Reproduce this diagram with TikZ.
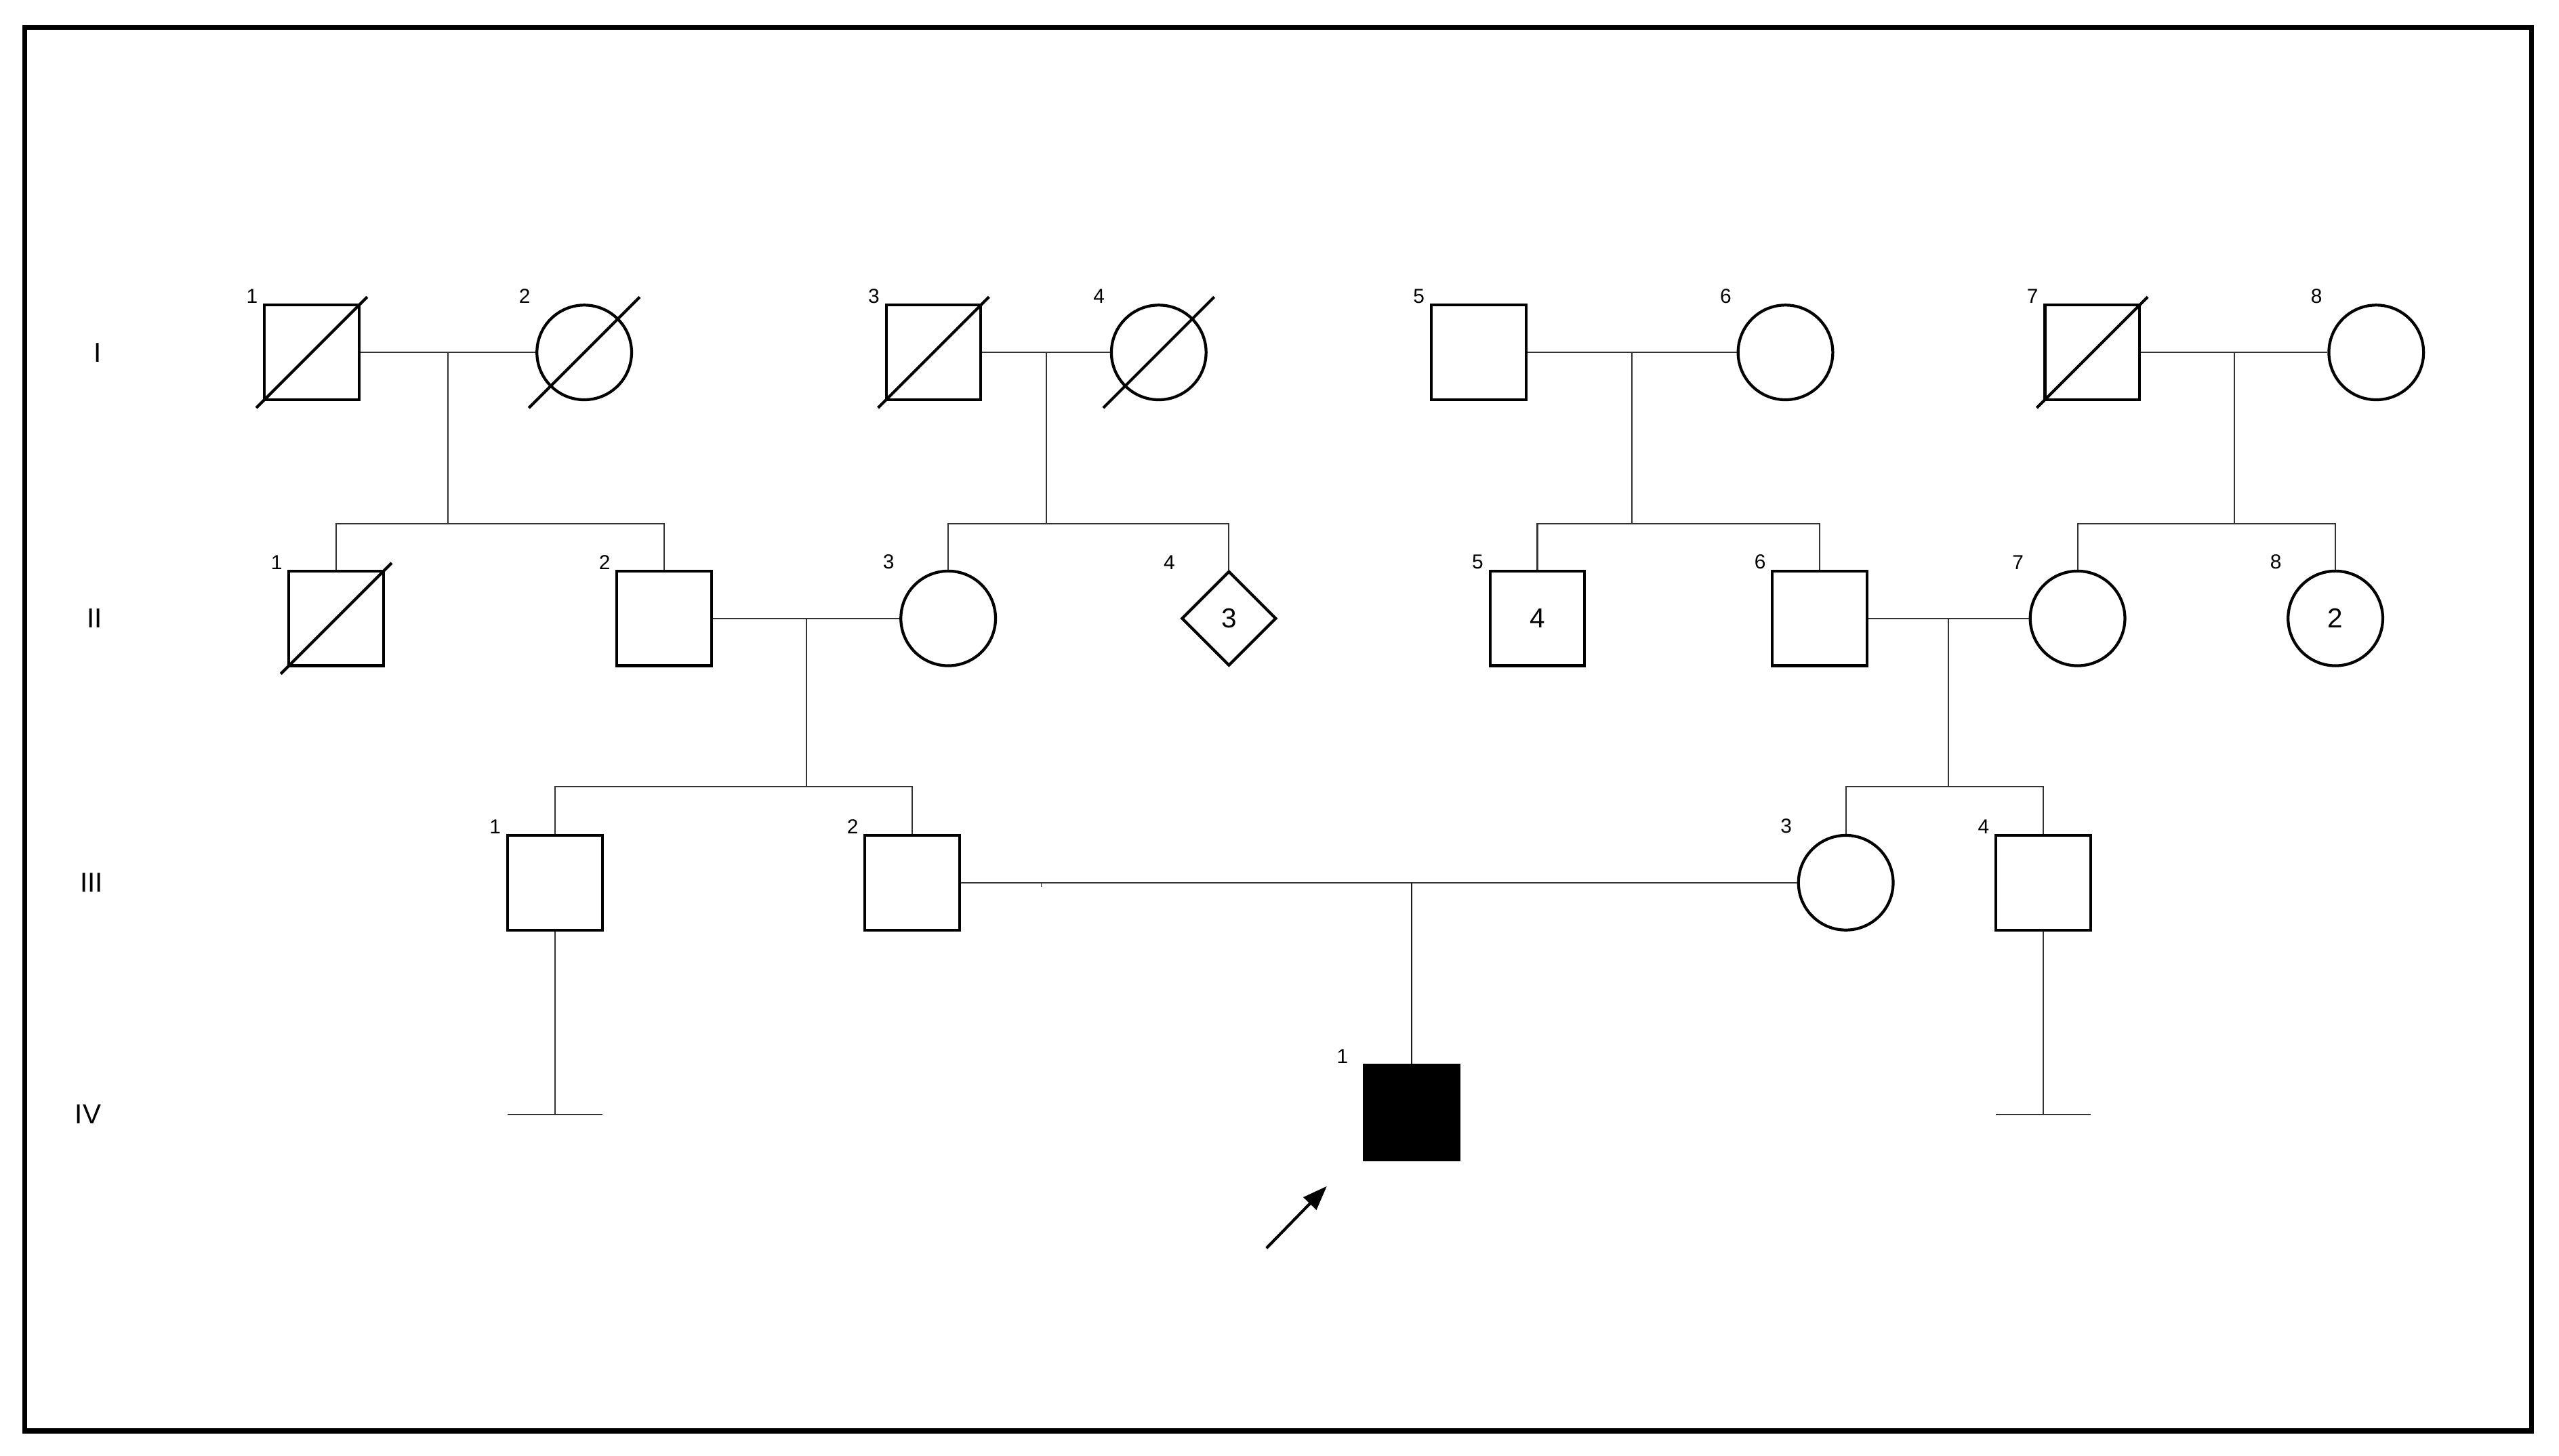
\documentclass[tikz,border=0pt]{standalone}
\usepackage{fontspec}
\setmainfont{Liberation Sans}
\usetikzlibrary{shapes.geometric,arrows.meta,calc}
\begin{document}
\begin{tikzpicture}[x=0.02408cm,y=-0.02408cm,
  sym/.style={draw, line width=1.2pt, inner sep=0pt, minimum size=1.397cm, font=\fontsize{11.5}{12}\selectfont},
  male/.style={sym, rectangle},
  female/.style={sym, circle},
  unk/.style={sym, diamond, aspect=1},
  affected/.style={fill=black},
  conn/.style={line width=0.6pt, draw=black!80},
  dead/.style={line width=1.2pt},
  idlab/.style={font=\fontsize{8.5}{9}\selectfont, inner sep=0pt, anchor=south east},
  genlab/.style={font=\fontsize{11.5}{12}\selectfont, inner sep=0pt}]

\useasboundingbox (0,0) rectangle (1568,892);
\draw[line width=2pt] (15,17) rectangle (1551,877);

% generation labels
\node[genlab] (gI) at (60,216) {I};
\node[genlab] (gII) at (58,379) {II};
\node[genlab] (gIII) at (56,541) {III};
\node[genlab] (gIV) at (54,683) {IV};

% Generation I
\node[male] (I1) at (191,216) {};
\node[female] (I2) at (358,216) {};
\node[male] (I3) at (572,216) {};
\node[female] (I4) at (710,216) {};
\node[male] (I5) at (906,216) {};
\node[female] (I6) at (1094,216) {};
\node[male] (I7) at (1282,216) {};
\node[female] (I8) at (1456,216) {};

% Generation II
\node[male] (II1) at (206,379) {};
\node[male] (II2) at (407,379) {};
\node[female] (II3) at (581,379) {};
\node[unk] (II4) at (753,379) {3};
\node[male] (II5) at (942,379) {4};
\node[male] (II6) at (1115,379) {};
\node[female] (II7) at (1273,379) {};
\node[female] (II8) at (1431,379) {2};

% Generation III
\node[male] (III1) at (340,541) {};
\node[male] (III2) at (559,541) {};
\node[female] (III3) at (1131,541) {};
\node[male] (III4) at (1252,541) {};

% Generation IV
\node[male, affected] (IV1) at (865,682) {};

% deceased slashes
\foreach \n in {I1,I2,I3,I4,I7,II1}{
  \draw[dead] (\n.center) ++(-34,34) -- ++(68,-68);
}

% id labels
\foreach \n/\t in {I1/1,I2/2,I3/3,I4/4,I5/5,I6/6,I7/7,I8/8,
                   II1/1,II2/2,II3/3,II4/4,II5/5,II6/6,II7/7,II8/8,
                   III1/1,III2/2,III3/3,III4/4}{
  \node[idlab] (l\n) at ([xshift=-2pt,yshift=0pt]\n.west |- \n.north) {\t};
}
\node[idlab] (lIV1) at ([xshift=-6pt,yshift=0pt]IV1.west |- IV1.north) {1};

% marriages and descent, generation I
\foreach \a/\b/\m/\s in {I1/I2/m1/s1, I3/I4/m2/s2, I5/I6/m3/s3, I7/I8/m4/s4}{
  \draw[conn] (\a.east) -- (\b.west);
  \coordinate (\m) at ($(\a.east)!0.5!(\b.west)$);
  \coordinate (\s) at (\m |- 0,321);
  \draw[conn] (\m) -- (\s);
}
\draw[conn] (II1.north) |- (s1) -| (II2.north);
\draw[conn] (II3.north) |- (s2) -| (II4.north);
\draw[conn] (II5.north) |- (s3) -| (II6.north);
\draw[conn] (II7.north) |- (s4) -| (II8.north);

% marriages generation II
\foreach \a/\b/\m/\s in {II2/II3/m5/s5, II6/II7/m6/s6}{
  \draw[conn] (\a.east) -- (\b.west);
  \coordinate (\m) at ($(\a.east)!0.5!(\b.west)$);
  \coordinate (\s) at (\m |- 0,482);
  \draw[conn] (\m) -- (\s);
}
\draw[conn] (III1.north) |- (s5) -| (III2.north);
\draw[conn] (III3.north) |- (s6) -| (III4.north);

% marriage generation III
\draw[conn] (III2.east) -- (III3.west);
\coordinate (m7) at (IV1.north |- III2.east);
\draw[line width=0.8pt, draw=black!90] (m7) -- (IV1.north);
\coordinate (tick) at (638,541);
\draw[line width=0.4pt, draw=black!80] (tick) -- ++(0,2.5);

% no offspring
\coordinate (nc1) at (III1.center |- 0,683);
\coordinate (nc2) at (III4.center |- 0,683);
\draw[conn] (III1.south) -- (nc1);
\draw[conn] ([xshift=-0.698cm]nc1) -- ([xshift=0.698cm]nc1);
\draw[conn] (III4.south) -- (nc2);
\draw[conn] ([xshift=-0.698cm]nc2) -- ([xshift=0.698cm]nc2);

% proband arrow
\coordinate (arrS) at (776,765);
\coordinate (arrE) at (813,727);
\draw[line width=1.2pt, -{Triangle[length=0.36cm,width=0.26cm]}] (arrS) -- (arrE);
\end{tikzpicture}
\end{document}
